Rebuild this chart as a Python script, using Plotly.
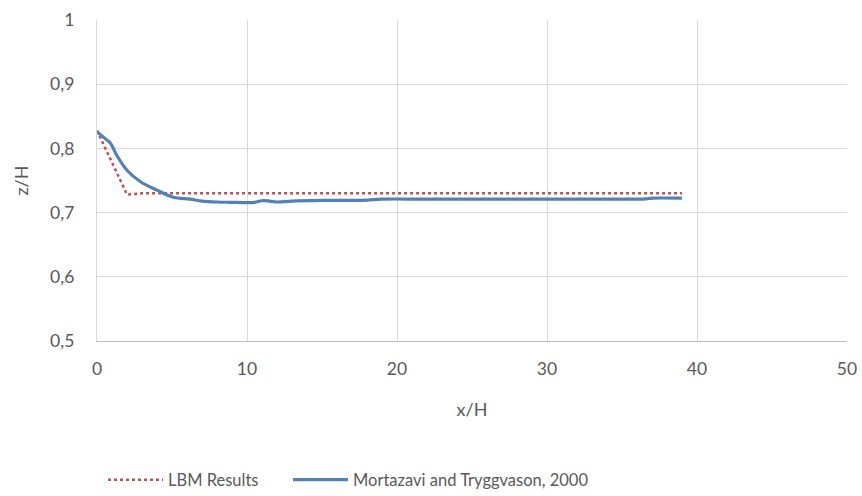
import plotly.graph_objects as go

lbm_x = list(range(0, 40))
lbm_z = [0.828, 0.778, 0.728, 0.730] + [0.730] * 36

mt_x = [0, 0.5, 0.9, 1.3, 2.0, 2.9, 4.0, 5.1, 6.2, 7.0, 8.0, 9.0, 10.0, 10.5, 11.0, 11.5, 12.0, 13.0, 15.0, 17.0, 18.0, 19.0, 22.0, 26.0, 30.0, 34.0, 36.0, 36.6, 37.0, 39.0]
mt_z = [0.826, 0.816, 0.808, 0.790, 0.766, 0.748, 0.735, 0.724, 0.721, 0.718, 0.7165, 0.716, 0.7155, 0.716, 0.7185, 0.718, 0.7165, 0.718, 0.719, 0.719, 0.7195, 0.721, 0.721, 0.721, 0.721, 0.721, 0.721, 0.7215, 0.7225, 0.7225]

font_family = "Lato, Carlito, Calibri, sans-serif"
grid = "#d9d9d9"
text_col = "#595959"

fig = go.Figure()
fig.add_trace(go.Scatter(x=lbm_x, y=lbm_z, mode="lines", name="LBM Results",
                         line=dict(color="#C0504D", width=2.5, dash="dot"),
                         legend="legend"))
fig.add_trace(go.Scatter(x=mt_x, y=mt_z, mode="lines", name="Mortazavi and Tryggvason, 2000",
                         line=dict(color="#4F81BD", width=3.2, shape="spline"),
                         legend="legend2"))

legend_common = dict(orientation="h", xanchor="left", y=-0.433, yanchor="middle",
                     font=dict(size=16.5, color=text_col), itemwidth=55,
                     bgcolor="rgba(0,0,0,0)")

fig.update_layout(
    width=862, height=496,
    margin=dict(l=97, r=15, t=20, b=155, autoexpand=False),
    paper_bgcolor="white", plot_bgcolor="white",
    separators=",.",
    font=dict(family=font_family, size=17, color=text_col),
    showlegend=True,
    legend=dict(x=0.008, **legend_common),
    legend2=dict(x=0.2547, **legend_common),
    xaxis=dict(range=[0, 50], dtick=10, showgrid=True, gridcolor=grid, gridwidth=1.3,
               zeroline=False, showline=True, linecolor="#bfbfbf", linewidth=1.3,
               ticks="", ticklabelstandoff=12, automargin=False,
               tickfont=dict(size=17.5, color=text_col),
               title=dict(text="x/H", font=dict(size=18, color=text_col), standoff=25)),
    yaxis=dict(range=[0.5, 1], dtick=0.1, showgrid=True, gridcolor=grid, gridwidth=1.3,
               zeroline=False, showline=True, linecolor="#d9d9d9", linewidth=1.3,
               ticks="", ticklabelstandoff=18, automargin=False,
               tickfont=dict(size=17.5, color=text_col),
               title=dict(text="z/H", font=dict(size=18, color=text_col), standoff=16)),
)

fig.write_html("out.html", config={"displayModeBar": False},
               post_script="document.body.style.margin='0';document.body.style.padding='0';")
